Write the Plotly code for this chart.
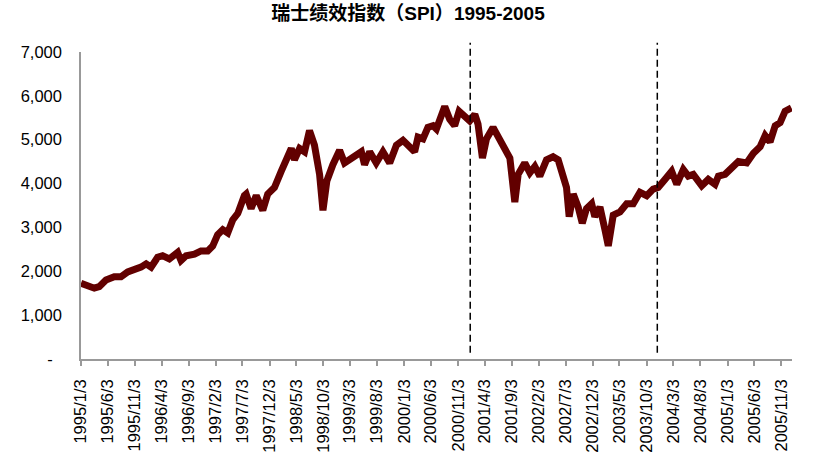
import plotly.graph_objects as go

# SPI weekly-ish readings (date, index level)
dates = [
    "1995-01-03", "1995-02-09", "1995-03-19", "1995-04-16", "1995-05-24", "1995-07-10",
    "1995-08-17", "1995-09-24", "1995-10-31", "1995-12-08", "1996-01-06", "1996-02-03",
    "1996-03-11", "1996-04-08", "1996-05-16", "1996-07-02", "1996-07-21", "1996-08-19",
    "1996-10-05", "1996-11-11", "1996-12-19", "1997-01-16", "1997-02-13", "1997-03-14",
    "1997-04-11", "1997-05-09", "1997-06-07", "1997-06-26", "1997-07-14", "1997-07-24",
    "1997-08-21", "1997-09-19", "1997-10-26", "1997-11-23", "1997-12-31", "1998-02-07",
    "1998-03-07", "1998-04-05", "1998-04-23", "1998-05-22", "1998-06-19", "1998-07-17",
    "1998-08-14", "1998-09-12", "1998-10-01", "1998-10-23", "1998-11-26", "1999-01-03",
    "1999-01-31", "1999-03-10", "1999-04-16", "1999-05-06", "1999-05-24", "1999-06-22",
    "1999-07-29", "1999-09-05", "1999-10-13", "1999-11-20", "1999-12-27", "2000-02-03",
    "2000-03-02", "2000-03-21", "2000-04-18", "2000-05-16", "2000-06-14", "2000-07-03",
    "2000-07-31", "2000-08-19", "2000-09-16", "2000-10-14", "2000-11-08", "2000-12-10",
    "2001-01-07", "2001-02-05", "2001-02-23", "2001-03-20", "2001-04-12", "2001-05-19",
    "2001-06-16", "2001-07-15", "2001-08-22", "2001-09-19", "2001-10-08", "2001-11-14",
    "2001-12-13", "2002-01-10", "2002-02-07", "2002-03-17", "2002-04-23", "2002-05-22",
    "2002-06-19", "2002-07-08", "2002-07-23", "2002-08-15", "2002-09-12", "2002-10-05",
    "2002-10-29", "2002-11-27", "2002-12-15", "2003-01-13", "2003-02-10", "2003-03-01",
    "2003-03-29", "2003-05-06", "2003-06-13", "2003-07-20", "2003-08-27", "2003-10-04",
    "2003-11-10", "2003-12-08", "2004-01-15", "2004-02-22", "2004-03-22", "2004-04-28",
    "2004-05-26", "2004-06-23", "2004-08-10", "2004-09-16", "2004-10-24", "2004-11-12",
    "2004-12-20", "2005-01-27", "2005-03-05", "2005-04-21", "2005-05-29", "2005-07-06",
    "2005-08-03", "2005-08-31", "2005-09-29", "2005-10-27", "2005-11-24", "2005-12-30",
]
spi = [
    1725, 1690, 1615, 1650, 1800, 1875,
    1875, 1985, 2020, 2095, 2170, 2095,
    2320, 2355, 2280, 2430, 2245, 2355,
    2390, 2465, 2465, 2575, 2835, 2950,
    2875, 3170, 3320, 3580, 3725, 3760,
    3430, 3725, 3390, 3760, 3910, 4280,
    4505, 4800, 4540, 4800, 4725, 5210,
    4875, 4210, 3390, 4060, 4430, 4760,
    4470, 4580, 4690, 4725, 4430, 4725,
    4470, 4725, 4470, 4875, 4985, 4800,
    4725, 5060, 5020, 5280, 5320, 5245,
    5505, 5760, 5465, 5320, 5650, 5540,
    5430, 5580, 5355, 4580, 5020, 5280,
    5060, 4800, 4580, 3580, 4210, 4470,
    4245, 4390, 4170, 4540, 4610, 4540,
    4135, 3910, 3245, 3760, 3465, 3095,
    3430, 3540, 3245, 3465, 2950, 2580,
    3280, 3355, 3540, 3540, 3800, 3725,
    3875, 3910, 4095, 4280, 3985, 4320,
    4170, 4210, 3950, 4095, 3985, 4170,
    4210, 4390, 4505, 4470, 4690, 4840,
    5095, 4950, 5320, 5390, 5650, 5725,
]

tick_dates = [
    "1995-01-03", "1995-06-03", "1995-11-03", "1996-04-03", "1996-09-03", "1997-02-03",
    "1997-07-03", "1997-12-03", "1998-05-03", "1998-10-03", "1999-03-03", "1999-08-03",
    "2000-01-03", "2000-06-03", "2000-11-03", "2001-04-03", "2001-09-03", "2002-02-03",
    "2002-07-03", "2002-12-03", "2003-05-03", "2003-10-03", "2004-03-03", "2004-08-03",
    "2005-01-03", "2005-06-03", "2005-11-03",
]
tick_labels = [
    "1995/1/3", "1995/6/3", "1995/11/3", "1996/4/3", "1996/9/3", "1997/2/3",
    "1997/7/3", "1997/12/3", "1998/5/3", "1998/10/3", "1999/3/3", "1999/8/3",
    "2000/1/3", "2000/6/3", "2000/11/3", "2001/4/3", "2001/9/3", "2002/2/3",
    "2002/7/3", "2002/12/3", "2003/5/3", "2003/10/3", "2004/3/3", "2004/8/3",
    "2005/1/3", "2005/6/3", "2005/11/3",
]
y_ticks = [0, 1000, 2000, 3000, 4000, 5000, 6000, 7000]
y_labels = ["-\u00a0\u00a0", "1,000", "2,000", "3,000", "4,000", "5,000", "6,000", "7,000"]
marker_dates = ["2001-01-10", "2003-12-03"]

title_text = "瑞士绩效指数（SPI）1995-2005"

fig = go.Figure()
fig.add_trace(go.Scatter(
    x=dates, y=spi, mode="lines",
    line=dict(color="#620000", width=7, shape="linear"),
    hoverinfo="x+y", showlegend=False,
))

for d in marker_dates:
    fig.add_shape(type="line", xref="x", yref="paper", x0=d, x1=d, y0=0.02, y1=1.03,
                  line=dict(color="#000000", width=1.5, dash="7px,4px"))

fig.update_layout(
    width=816, height=465,
    margin=dict(l=81, r=24, t=52, b=99),
    paper_bgcolor="white", plot_bgcolor="white",
    font=dict(family="Liberation Sans, Arial, Noto Sans CJK SC, sans-serif", color="#000000", size=16),
    title=dict(text="<b>" + title_text + "</b>", x=0.5, xanchor="center", y=0.971, yanchor="middle",
               font=dict(size=19, family="Liberation Sans, Arial, Noto Sans CJK SC, sans-serif", color="#000000")),
    xaxis=dict(
        type="date", range=["1995-01-03", "2006-01-02"],
        tickvals=tick_dates, ticktext=tick_labels, tickangle=-90,
        ticks="outside", ticklen=5, tickcolor="#999999", tickwidth=1.5,
        showline=True, linecolor="#999999", linewidth=1.5,
        showgrid=False, zeroline=False,
        tickfont=dict(size=16.5), ticklabelstandoff=7,
    ),
    yaxis=dict(
        range=[0, 7000], tickvals=y_ticks, ticktext=y_labels,
        ticks="", showline=True, linecolor="#999999", linewidth=1.5,
        showgrid=False, zeroline=False,
        tickfont=dict(size=16.5), ticklabelstandoff=14,
    ),
)

# remove the browser's default 8px page margin so the figure sits at the window's corner
fig.write_html("out.html", config={"displayModeBar": False},
               post_script="document.body.style.margin='0';document.body.style.overflow='hidden';")
